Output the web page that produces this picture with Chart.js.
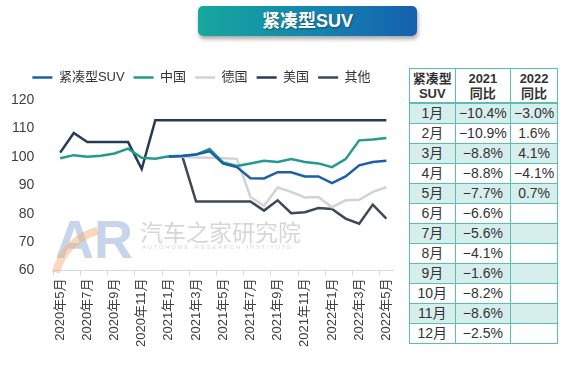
<!DOCTYPE html>
<html>
<head>
<meta charset="utf-8">
<script src="https://cdn.jsdelivr.net/npm/chart.js@4"></script>
<style>
  html, body { margin: 0; padding: 0; background: #fff; }
  body { width: 571px; height: 368px; position: relative; overflow: hidden;
         font-family: "Liberation Sans", "Noto Sans CJK SC", sans-serif; }
  #banner { position: absolute; left: 198px; top: 6px; width: 219px; height: 30px;
            border-radius: 5px; background: linear-gradient(90deg, #16a89c 0%, #1583b0 55%, #1560ad 100%);
            box-shadow: 1px 3px 4px rgba(0,0,0,0.35); color: #fff; font-weight: bold;
            font-size: 18px; line-height: 30px; text-align: center;
            text-shadow: 1px 1px 2px rgba(0,0,0,0.35); }
  #wrap { position: absolute; left: 0; top: 58px; width: 405px; height: 292px; }
  table { position: absolute; left: 409px; top: 68px; width: 149px; border-collapse: collapse;
          font-size: 14px; color: #333; }
  td, th { border: 1px solid #5cbdb3; text-align: center; padding: 0; }
  td { height: 19px; line-height: 17px; }
  th { font-size: 13px; font-weight: bold; line-height: 15px; height: 33px; border-bottom: 2px solid #5cbdb3; }
  tr.odd td { background: #d6eeec; }
</style>
</head>
<body>
<div id="banner">紧凑型SUV</div>
<div id="wrap"><canvas id="Chart"></canvas></div>
<table id="tbl"></table>
<script>
// x labels: 2020年5月 .. 2022年5月
const labels = ["2020年5月","2020年6月","2020年7月","2020年8月","2020年9月","2020年10月","2020年11月","2020年12月",
  "2021年1月","2021年2月","2021年3月","2021年4月","2021年5月","2021年6月","2021年7月","2021年8月","2021年9月",
  "2021年10月","2021年11月","2021年12月","2022年1月","2022年2月","2022年3月","2022年4月","2022年5月"];

const suv   = [null,null,null,null,null,null,null,null,100,100.3,100.8,102,97.6,96.4,92.5,92.4,94.6,94.6,93.1,93.1,90.8,93.1,97,98.2,98.6];
const china = [99.5,100.6,100,100.4,101.2,102.9,99.7,99.3,100.2,100.4,100.8,102.8,98,96.8,97.7,98.6,98.2,99.2,98.2,97.7,96.4,99.2,105.8,106.1,106.6];
const germany = [null,null,null,null,null,null,null,null,100,100,99.8,99.7,99.5,99.3,85.9,82.8,89.2,87.7,85.7,85.9,82.3,84.7,84.9,87.7,89.3];
const usa   = [101.5,108.4,105.2,105.2,105.2,105.2,95.7,112.9,112.9,112.9,112.9,112.9,112.9,112.9,112.9,112.9,112.9,112.9,112.9,112.9,112.9,112.9,112.9,112.9,112.9];
const other = [null,null,null,null,null,null,null,null,100,100,84.3,84.3,84.3,84.3,84.3,81.1,84.7,80.2,80.5,82,81.7,78.3,76.5,83.2,78.3];

// table
const months = ["1月","2月","3月","4月","5月","6月","7月","8月","9月","10月","11月","12月"];
const yoy2021 = [-10.4,-10.9,-8.8,-8.8,-7.7,-6.6,-5.6,-4.1,-1.6,-8.2,-8.6,-2.5];
const yoy2022 = [-3.0,1.6,4.1,-4.1,0.7];

function fmt(v) {
  if (v === undefined) return "";
  return (v < 0 ? "\u2212" : "") + Math.abs(v).toFixed(1) + "%";
}
let html = "<tr><th>紧凑型<br>SUV</th><th>2021<br>同比</th><th>2022<br>同比</th></tr>";
months.forEach((m, i) => {
  html += '<tr class="' + (i % 2 === 0 ? "odd" : "") + '"><td>' + m + "</td><td>" + fmt(yoy2021[i]) + "</td><td>" + fmt(yoy2022[i]) + "</td></tr>";
});
document.getElementById("tbl").innerHTML = html;

const FONT = "'Liberation Sans', 'Noto Sans CJK SC', sans-serif";

// faint logo behind the lines (canvas coords = page y - 58)
const watermark = {
  id: "watermark",
  beforeDatasetsDraw(chart) {
    const { ctx } = chart;
    ctx.save();
    ctx.globalAlpha = 0.5;
    ctx.fillStyle = "#8fa9d3";
    ctx.font = "bold 54px " + FONT;
    ctx.fillText("AR", 55, 185);
    ctx.strokeStyle = "#f4b27c";
    ctx.lineWidth = 8;
    ctx.beginPath();
    ctx.arc(112, 229, 58, Math.PI * 1.08, Math.PI * 1.42);
    ctx.stroke();
    ctx.globalAlpha = 0.35;
    ctx.fillStyle = "#8a8a8a";
    ctx.font = "23px 'Noto Sans CJK SC', sans-serif";
    ctx.fillText("汽车之家研究院", 140, 174);
    ctx.font = "6px " + FONT;
    ctx.fillText("A U T O H O M E    R E S E A R C H    I N S T I T U T E", 142, 189);
    ctx.restore();
  },
};

const ctx = document.getElementById("Chart");

new Chart(ctx, {
  type: "line",
  data: {
    labels: labels,
    datasets: [
      { label: "紧凑型SUV", data: suv, borderColor: "#1d5ea8", backgroundColor: "#1d5ea8", borderWidth: 2.5 },
      { label: "中国", data: china, borderColor: "#229a8f", backgroundColor: "#229a8f", borderWidth: 2.5 },
      { label: "德国", data: germany, borderColor: "#d3d3d3", backgroundColor: "#d3d3d3", borderWidth: 2.5 },
      { label: "美国", data: usa, borderColor: "#263c56", backgroundColor: "#263c56", borderWidth: 2.5 },
      { label: "其他", data: other, borderColor: "#3c4a55", backgroundColor: "#3c4a55", borderWidth: 2.5 },
    ],
  },
  options: {
    animation: false,
    responsive: true,
    maintainAspectRatio: false,
    elements: {
      line: { tension: 0 },
      point: { radius: 0 },
    },
    layout: { padding: { left: 0, right: 2, top: 4 } },
    plugins: {
      legend: {
        position: "top",
        labels: {
          usePointStyle: true,
          pointStyle: "line",
          pointStyleWidth: 20,
          padding: 9,
          color: "#333",
          font: { size: 13, family: FONT },
        },
      },
      tooltip: { enabled: false },
    },
    scales: {
      x: {
        offset: true,
        border: { color: "#d9d9d9" },
        grid: {
          offset: true,
          drawOnChartArea: false,
          tickLength: 5,
          color: (c) => (c.index % 2 === 0 ? "#d9d9d9" : "rgba(0,0,0,0)"),
        },
        ticks: {
          autoSkip: false,
          maxRotation: 90,
          minRotation: 90,
          color: "#404040",
          font: { size: 13, family: FONT },
          callback: function (val, i) {
            return i % 2 === 0 ? this.getLabelForValue(val) : "";
          },
        },
      },
      y: {
        min: 60,
        max: 120,
        afterFit: (scale) => { scale.paddingTop = 0; },
        border: { display: false },
        grid: { display: false },
        ticks: { stepSize: 10, padding: 11, color: "#404040", font: { size: 14, family: FONT } },
      },
    },
  },
  plugins: [
    watermark,
    {
      id: "legendGap",
      beforeInit(chart) {
        const fit = chart.legend.fit;
        chart.legend.fit = function () {
          fit.bind(chart.legend)();
          this.height += 6;
        };
      },
    },
  ],
});
</script>
</body>
</html>
